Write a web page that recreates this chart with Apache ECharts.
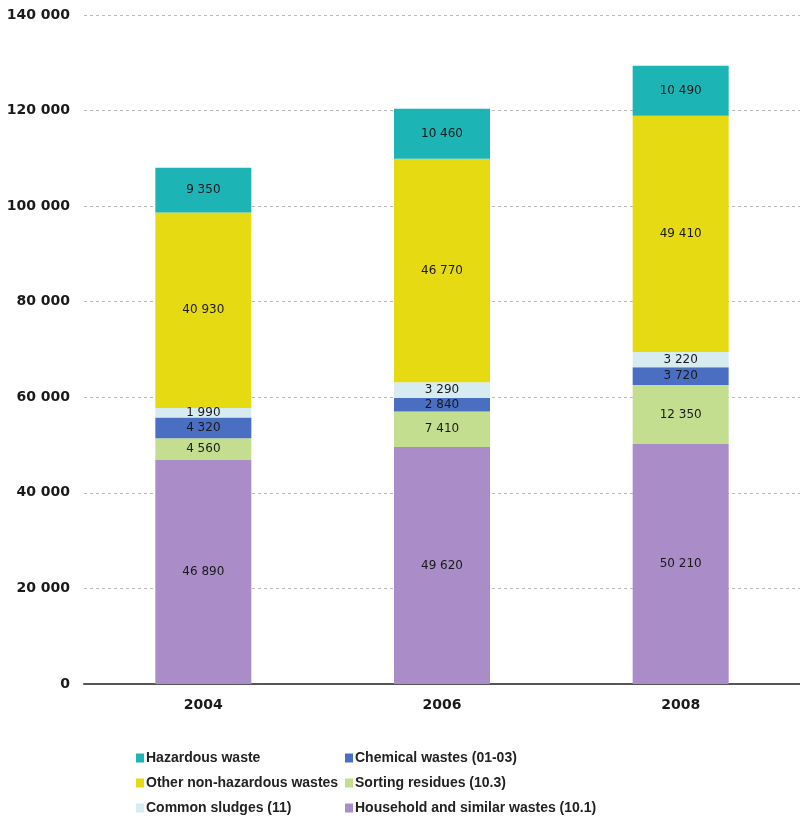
<!DOCTYPE html>
<html>
<head>
<meta charset="utf-8">
<script src="https://cdn.jsdelivr.net/npm/echarts@6/dist/echarts.min.js"></script>
<style>
  html, body { margin: 0; padding: 0; background: #fff; }
  #chart { width: 800px; height: 825px; }
</style>
</head>
<body>
<div id="chart"></div>
<script>
// Waste generation by category (tonnes)
const years = ['2004', '2006', '2008'];
const household = [46890, 49620, 50210];
const sorting = [4560, 7410, 12350];
const chemical = [4320, 2840, 3720];
const sludges = [1990, 3290, 3220];
const otherNonHaz = [40930, 46770, 49410];
const hazardous = [9350, 10460, 10490];
const yTicks = [0, 20000, 40000, 60000, 80000, 100000, 120000, 140000];

const fmt = v => String(v).replace(/\B(?=(\d{3})+(?!\d))/g, ' ');
const AXIS_FONT = 'DejaVu Sans, Verdana, sans-serif';
const LEGEND_FONT = 'Liberation Sans, Arial, sans-serif';

// Bottom-to-top stacking order
const layers = [
  { name: 'Household and similar wastes (10.1)', data: household, color: '#a98cc8' },
  { name: 'Sorting residues (10.3)', data: sorting, color: '#c2de8e' },
  { name: 'Chemical wastes (01-03)', data: chemical, color: '#4a6ec2' },
  { name: 'Common sludges (11)', data: sludges, color: '#d6ecf0' },
  { name: 'Other non-hazardous wastes', data: otherNonHaz, color: '#e6da12' },
  { name: 'Hazardous waste', data: hazardous, color: '#1cb4b4' }
];

const chart = echarts.init(document.getElementById('chart'));

const legendCommon = {
  orient: 'vertical',
  itemWidth: 8,
  itemHeight: 9,
  itemGap: 11,
  icon: 'rect',
  textStyle: { fontFamily: LEGEND_FONT, fontSize: 14, fontWeight: 'bold', color: '#222', padding: [0, 0, 0, -3] }
};

chart.setOption({
  animation: false,
  grid: { left: 84, top: 15, width: 720, height: 669, containLabel: false },
  legend: [
    Object.assign({}, legendCommon, {
      left: 131, top: 746,
      data: ['Hazardous waste', 'Other non-hazardous wastes', 'Common sludges (11)']
    }),
    Object.assign({}, legendCommon, {
      left: 340, top: 746,
      data: ['Chemical wastes (01-03)', 'Sorting residues (10.3)', 'Household and similar wastes (10.1)']
    })
  ],
  xAxis: {
    type: 'category',
    data: years,
    axisLine: { lineStyle: { color: '#555', width: 2 } },
    axisTick: { show: false },
    axisLabel: { fontFamily: AXIS_FONT, fontSize: 14, fontWeight: 'bold', color: '#1a1a1a', margin: 14 }
  },
  yAxis: {
    type: 'value',
    min: 0,
    max: 140000,
    interval: 20000,
    axisLine: { show: false },
    axisTick: { show: false },
    axisLabel: {
      fontFamily: AXIS_FONT, fontSize: 14, fontWeight: 'bold', color: '#1a1a1a', margin: 14,
      formatter: v => yTicks.includes(v) ? fmt(v) : ''
    },
    splitLine: { lineStyle: { color: '#bbb', type: [3, 3], width: 1 } }
  },
  series: layers.map(l => ({
    name: l.name,
    type: 'bar',
    stack: 'total',
    barWidth: 96,
    data: l.data,
    itemStyle: { color: l.color },
    label: {
      show: true,
      position: 'inside',
      fontFamily: AXIS_FONT,
      fontSize: 12,
      color: '#1a1a1a',
      formatter: p => fmt(p.value)
    }
  }))
});
</script>
</body>
</html>
